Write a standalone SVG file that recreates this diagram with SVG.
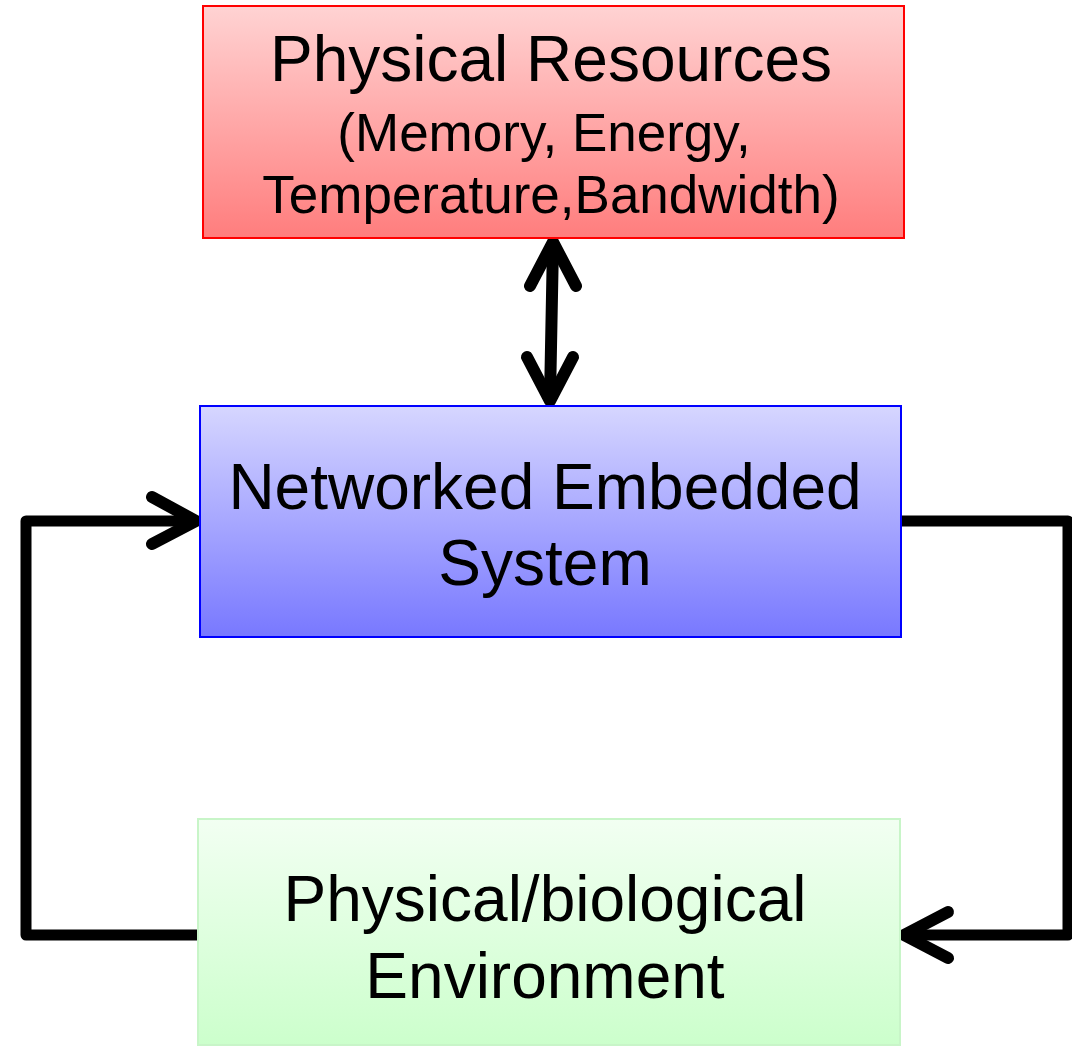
<svg xmlns="http://www.w3.org/2000/svg" width="1072" height="1047" viewBox="0 0 1072 1047">
<defs>
<linearGradient id="gr" x1="0" y1="0" x2="0" y2="1"><stop offset="0" stop-color="#ffd3d3"/><stop offset="1" stop-color="#ff7d7d"/></linearGradient>
<linearGradient id="gb" x1="0" y1="0" x2="0" y2="1"><stop offset="0" stop-color="#d6d6ff"/><stop offset="1" stop-color="#7878ff"/></linearGradient>
<linearGradient id="gg" x1="0" y1="0" x2="0" y2="1"><stop offset="0" stop-color="#f2fff2"/><stop offset="1" stop-color="#ccffcc"/></linearGradient>
</defs>
<style>
text{font-family:"Liberation Sans",Arial,sans-serif;fill:#000;text-anchor:middle}
.big{font-size:64px}
.sm{font-size:53px}
.ln{fill:none;stroke:#000;stroke-width:12;stroke-linecap:round;stroke-linejoin:round}
.cn{fill:none;stroke:#000;stroke-width:11;stroke-linejoin:round}
</style>
<g id="connectors">
<path class="ln" d="M553 244 L550 399"/>
<path class="ln" d="M530 286 L553 242 L576 286"/>
<path class="ln" d="M527 357 L550 401 L573 357"/>
<path class="cn" d="M197 935 H26 V521 H194"/>
<path class="ln" d="M152 497 L196 521 L152 544"/>
<path class="cn" d="M902 521 H1068 V935 H906"/>
<path class="ln" d="M948 912 L904 935 L948 958"/>
</g>
<g id="physical-resources">
<rect x="203" y="6" width="701" height="232" fill="url(#gr)" stroke="#ff0000" stroke-width="2"/>
<text class="big" x="551" y="81">Physical Resources</text>
<text class="sm" x="544" y="151">(Memory, Energy,</text>
<text class="sm" x="551" y="213">Temperature,Bandwidth)</text>
</g>
<g id="networked-embedded-system">
<rect x="200" y="406" width="701" height="231" fill="url(#gb)" stroke="#0000ff" stroke-width="2"/>
<text class="big" x="545" y="509">Networked Embedded</text>
<text class="big" x="545" y="585">System</text>
</g>
<g id="environment">
<rect x="198" y="819" width="702" height="226" fill="url(#gg)" stroke="#c8f5c8" stroke-width="2"/>
<text class="big" x="545" y="921">Physical/biological</text>
<text class="big" x="545" y="998">Environment</text>
</g>
</svg>
